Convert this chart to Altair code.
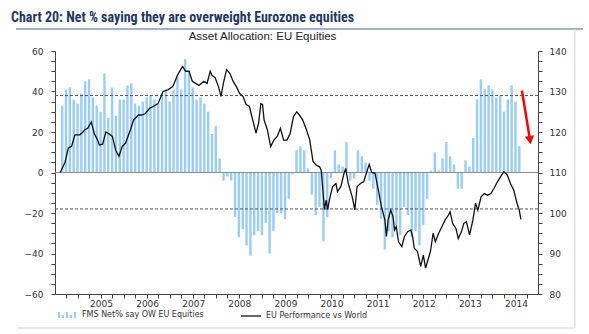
import altair as alt
import pandas as pd

# ---------------- data ----------------
header_text = "Chart 20: Net % saying they are overweight Eurozone equities"
chart_title = "Asset Allocation: EU Equities"
bar_series = "FMS Net% say OW EU Equities"
line_series = "EU Performance vs World"

bar_start_month = "2004-09-01"
fms_net_pct = [
    33, 41, 42, 36, 34, 39, 45, 46, 37, 33,
    30, 49, 27, 42, 28, 36, 36, 43, 44, 34,
    33, 35, 37, 38, 36, 34, 39, 41, 35, 41,
    47, 41, 56, 50, 42, 36, 37, 34, 30, 19,
    23, 7,
    -4, -2, -4, -22, -32, -28, -36, -41, -31, -29,
    -31, -25, -40, -29, -20, -20, -23, -13, -1, 11,
    13, 11, 2,
    -11, -21, -17, -34, -22, -3, 11, 4, 3, 15, -4, -3, 11, 8, 5,
    -4, -8, -16, -23, -38, -29, -32, -26, -31, -17, -21, -32, -29, -36, -26, -13,
    1, 10, 1, 7, 15, 8, 4, -8, -8, 6, 3, 17, 36, 46, 41, 43, 41, 37, 38, 30,
    36, 43, 35, 13,
]

perf_year = [
    2004.624, 2004.730, 2004.800, 2004.873, 2004.943, 2005.049, 2005.119, 2005.155,
    2005.225, 2005.297, 2005.367, 2005.437, 2005.473, 2005.544, 2005.616, 2005.686,
    2005.756, 2005.828, 2005.898, 2005.968, 2006.040, 2006.146, 2006.217, 2006.323,
    2006.393, 2006.465, 2006.571, 2006.641, 2006.747, 2006.854, 2006.960, 2007.066,
    2007.172, 2007.278, 2007.348, 2007.420, 2007.490, 2007.561, 2007.633, 2007.739,
    2007.809, 2007.879, 2007.915, 2007.985, 2008.057, 2008.113, 2008.163, 2008.234,
    2008.304, 2008.376, 2008.446, 2008.516, 2008.588, 2008.658, 2008.728, 2008.800,
    2008.871, 2008.928, 2008.977, 2009.013, 2009.047, 2009.119, 2009.189, 2009.259,
    2009.331, 2009.401, 2009.471, 2009.544, 2009.614, 2009.684, 2009.756, 2009.811,
    2009.883, 2009.968, 2010.038, 2010.108, 2010.180, 2010.251, 2010.287, 2010.321,
    2010.357, 2010.393, 2010.427, 2010.463, 2010.533, 2010.605, 2010.639, 2010.711,
    2010.781, 2010.817, 2010.873, 2010.958, 2011.015, 2011.064, 2011.136, 2011.206,
    2011.276, 2011.327, 2011.382, 2011.454, 2011.524, 2011.594, 2011.667, 2011.701,
    2011.737, 2011.794, 2011.843, 2011.879, 2011.913, 2011.964, 2012.034, 2012.091,
    2012.161, 2012.231, 2012.268, 2012.304, 2012.374, 2012.444, 2012.501, 2012.550,
    2012.601, 2012.656, 2012.713, 2012.762, 2012.834, 2012.904, 2012.975, 2013.047,
    2013.081, 2013.138, 2013.208, 2013.259, 2013.329, 2013.378, 2013.435, 2013.505,
    2013.577, 2013.633, 2013.684, 2013.754, 2013.824, 2013.896, 2013.966, 2014.036,
    2014.108, 2014.178, 2014.248, 2014.321, 2014.391, 2014.461, 2014.533, 2014.582,
    2014.618,
]
perf_value = [
    110.0, 112.5, 116.0, 116.5, 119.3, 119.3, 120.0, 120.5,
    121.0, 122.5, 119.5, 118.0, 116.8, 117.0, 120.0, 119.5,
    118.9, 115.5, 114.0, 116.4, 117.2, 120.5, 123.0, 124.2,
    124.2, 124.5, 125.9, 126.3, 127.0, 130.0, 130.4, 131.2,
    134.1, 136.2, 135.0, 135.0, 132.5, 132.0, 131.5, 132.5,
    132.0, 135.0, 134.0, 133.4, 131.2, 128.8, 132.0, 135.4,
    134.5, 132.5, 131.2, 129.5, 128.8, 126.8, 126.3, 123.0,
    119.7, 122.2, 127.0, 126.8, 123.0, 120.5, 116.4, 118.0,
    118.9, 120.9, 118.0, 118.0, 119.7, 123.8, 125.0, 124.2,
    123.0, 120.5, 118.0, 112.7, 111.8, 111.4, 110.5, 105.7,
    100.8, 103.2, 100.8, 103.2, 106.5, 107.3, 105.3, 106.5,
    109.8, 111.0, 107.3, 104.0, 100.8, 106.5, 107.3, 107.7,
    110.2, 112.0, 110.0, 109.8, 105.7, 101.5, 98.3, 94.2,
    98.3, 100.7, 99.1, 95.8, 96.6, 92.9, 91.7, 94.2,
    95.4, 95.8, 94.2, 91.3, 90.5, 86.8, 89.6, 86.4,
    88.4, 90.5, 95.0, 92.9, 95.0, 96.6, 98.3, 99.5,
    100.3, 97.4, 96.2, 93.7, 95.4, 97.4, 97.9, 94.6,
    98.3, 102.4, 100.7, 104.0, 104.8, 104.4, 104.8, 106.1,
    107.7, 109.0, 110.2, 109.4, 107.3, 105.7, 102.4, 100.7,
    98.4,
]

ref_levels = [38, -18]          # dashed reference lines (left axis)
arrow_year = [2014.64, 2014.815]
arrow_pct = [40.5, 16.0]

x_domain = [2004.62, 2014.88]
left_domain = [-60, 60]
right_domain = [80, 140]

# ---------------- frames ----------------
months = pd.date_range(bar_start_month, periods=len(fms_net_pct), freq="MS")
bars_df = pd.DataFrame({
    "t": [m.year + (m.month - 1) / 12 for m in months],
    "v": fms_net_pct,
    "series": bar_series,
})
line_df = pd.DataFrame({"t": perf_year, "v": perf_value, "series": line_series})
ref_df = pd.DataFrame({"y": ref_levels})
zero_df = pd.DataFrame({"y": [0]})
arrow_df = pd.DataFrame({"t": arrow_year, "v": arrow_pct})
arrow_head_df = pd.DataFrame({"t": [arrow_year[-1]], "v": [arrow_pct[-1]]})
text_df = pd.DataFrame({"h": [header_text], "s": [chart_title]})

FONT = "DejaVu Sans"
AX = "#444444"

x_ticks = [2004.75 + 0.25 * i for i in range(41)]
x_axis = alt.Axis(
    values=x_ticks,
    labelExpr="datum.value % 1 === 0 ? format(datum.value, 'd') : ''",
    labelOffset=23.5, labelFlush=False, labelOverlap=False, labelBound=False,
    tickSize=4, tickColor=AX, domainColor=AX, labelColor="#333333",
    labelFont=FONT, labelFontSize=9, labelPadding=1, grid=False, title=None,
)
x_scale = alt.Scale(domain=x_domain, nice=False, zero=False)
x_enc = alt.X("t:Q", scale=x_scale, axis=x_axis)

left_axis = alt.Axis(
    values=[-60 + 5 * i for i in range(25)],
    labelExpr="datum.value % 20 === 0 ? format(datum.value, 'd') : ''",
    tickSize=4, tickColor=AX, domainColor=AX, labelColor="#333333",
    labelFont=FONT, labelFontSize=9, labelPadding=8, grid=False, title=None,
    labelOverlap=False, labelFlush=False,
)
right_axis = alt.Axis(
    orient="right",
    values=[80 + 2.5 * i for i in range(25)],
    labelExpr="datum.value % 10 === 0 ? format(datum.value, 'd') : ''",
    tickSize=4, tickColor=AX, domainColor=AX, labelColor="#333333",
    labelFont=FONT, labelFontSize=9, labelPadding=7, grid=False, title=None,
    labelOverlap=False, labelFlush=False,
)
left_scale = alt.Scale(domain=left_domain, nice=False, zero=False)


def yl(field):
    return alt.Y(field, scale=left_scale, axis=left_axis)


bar_symbol = ("M-1,0.3V-0.3H-0.8V0.3Z M-0.6,0.3V0H-0.4V0.3Z M-0.2,0.3V-0.3H0V0.3Z "
              "M0.2,0.3V0H0.4V0.3Z M0.6,0.3V-0.3H0.8V0.3Z")

bars = alt.Chart(bars_df).mark_bar(size=2.4).encode(
    x=x_enc,
    y=yl("v:Q"),
    y2=alt.datum(0),
    fill=alt.Fill("series:N", scale=alt.Scale(range=["#99ccff"]),
                  legend=alt.Legend(orient="none", legendX=3, legendY=254, title=None,
                                    symbolType=bar_symbol, symbolSize=400,
                                    symbolStrokeWidth=0, labelFont=FONT, labelFontSize=8,
                                    labelColor="#333333", labelOffset=4)),
)
zero_rule = alt.Chart(zero_df).mark_rule(color="#8c8c8c", strokeWidth=1).encode(y=yl("y:Q"))
ref_rules = alt.Chart(ref_df).mark_rule(color="#555555", strokeWidth=1, strokeDash=[3, 2]).encode(
    y=yl("y:Q"))
arrow_shaft = alt.Chart(arrow_df).mark_line(color="#ff0000", strokeWidth=2.5).encode(
    x=x_enc, y=yl("v:Q"))
arrow_head = alt.Chart(arrow_head_df).mark_point(
    shape="triangle-down", filled=True, color="#ff0000", size=90, angle=351, opacity=1
).encode(x=x_enc, y=yl("v:Q"))

header = alt.Chart(text_df).mark_text(
    align="left", baseline="alphabetic", font="Roboto Condensed, Liberation Sans Narrow, Roboto",
    fontWeight="bold", fontSize=14, color="#1f3864"
).encode(x=alt.value(-44), y=alt.value(-29.5), text="h:N")
subtitle = alt.Chart(text_df).mark_text(
    align="center", baseline="alphabetic", font="Liberation Sans", fontSize=11.5, color="#222222"
).encode(x=alt.value(207.5), y=alt.value(-11), text="s:N")

# decorative frame drawn as short polylines: rule under the header, faint box edges
frame_df = pd.DataFrame({
    "seg": ["a", "a", "b", "b", "c", "c"],
    "fx": [2003.665, 2015.965, 2003.70, 2015.785, 2015.785, 2015.785],
    "fy": [70.9, 70.9, -76.8, -76.8, 70.6, -76.8],
    "c": ["#8796b0", "#8796b0", "#e2e2e2", "#e2e2e2", "#e2e2e2", "#e2e2e2"],
})
frame = alt.Chart(frame_df).mark_line(clip=False, strokeWidth=1.5).encode(
    x=alt.X("fx:Q", scale=x_scale, axis=x_axis),
    y=yl("fy:Q"),
    detail="seg:N",
    color=alt.Color("c:N", scale=None, legend=None),
    order=alt.Order("fx:Q"),
)

left_group = alt.layer(frame, bars, zero_rule, ref_rules, arrow_shaft, arrow_head,
                       header, subtitle)

line = alt.Chart(line_df).mark_line(strokeWidth=1.3).encode(
    x=x_enc,
    y=alt.Y("v:Q", scale=alt.Scale(domain=right_domain, nice=False, zero=False), axis=right_axis),
    stroke=alt.Stroke("series:N", scale=alt.Scale(range=["#111111"]),
                      legend=alt.Legend(orient="none", legendX=185, legendY=254, title=None,
                                        symbolType="stroke", symbolSize=400,
                                        symbolStrokeWidth=1.3, labelFont=FONT, labelFontSize=8,
                                        labelColor="#333333", labelOffset=4)),
)

chart = alt.layer(left_group, line).resolve_scale(
    y="independent"
).properties(
    width=483, height=243,
    padding={"left": 55, "top": 51, "right": 51, "bottom": 40},
    autosize=alt.AutoSizeParams(type="none"),
    background="white",
).configure_view(stroke=None)

chart.save("out.html", embed_options={"renderer": "svg", "actions": False})
